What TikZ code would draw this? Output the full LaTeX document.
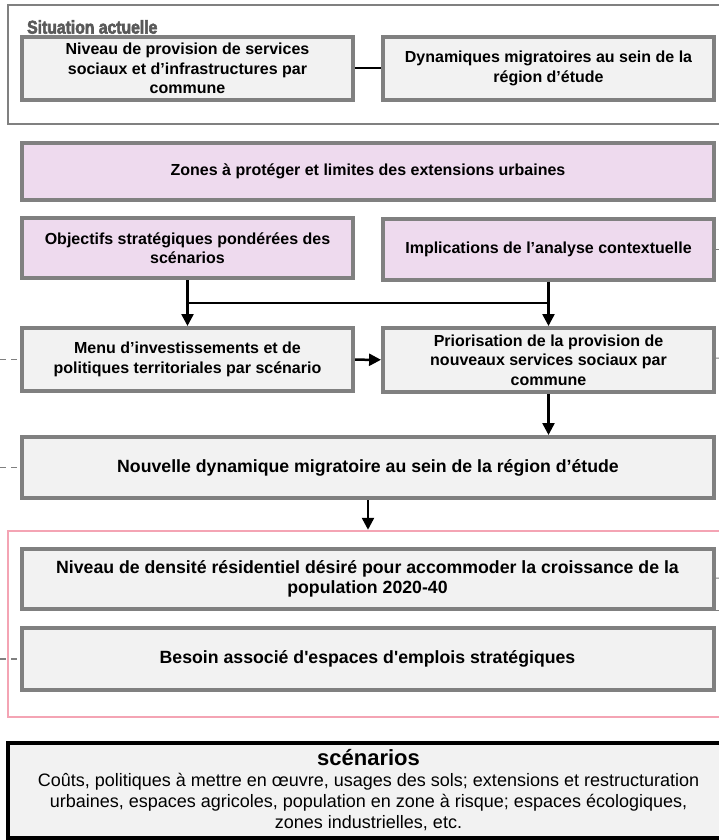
\documentclass[tikz,border=0pt]{standalone}
\usepackage{fontspec}
\usepackage{tikz}
\usetikzlibrary{arrows.meta, positioning}

\setmainfont{Liberation Sans}
\newfontfamily\titlefont[FakeStretch=0.85,FakeBold=3]{Liberation Sans Bold}
\newfontfamily\boxfont{Liberation Sans Bold}

\definecolor{boxgray}{HTML}{F2F2F2}
\definecolor{linegray}{HTML}{808080}
\definecolor{lilac}{HTML}{EEDAEE}
\definecolor{rosepink}{HTML}{F4A4B4}
\definecolor{titlegray}{HTML}{595959}

\begin{document}
\begin{tikzpicture}[
				x=1pt, y=-1pt,
				box/.style={rectangle, draw=linegray, fill=boxgray, line width=4pt, align=center, inner sep=0pt, minimum width=331pt, minimum height=63pt, font=\boxfont\fontsize{16}{19.5}\selectfont},
				widebox/.style={box, minimum width=692pt},
				bigbox/.style={widebox, font=\boxfont\fontsize{17.7}{20}\selectfont},
				pinkbox/.style={box, fill=lilac},
				frame/.style={rectangle, line width=2.5pt, inner sep=0pt, minimum width=721pt},
				arrow/.style={-{Triangle[width=12pt, length=12pt]}, line width=2.5pt},
				link/.style={line width=2pt},
				stub/.style={draw=linegray, line width=1.3pt, dash pattern=on 6pt off 5pt},
				rstub/.style={draw=linegray, line width=1pt}
				]
				\useasboundingbox (0,0) rectangle (719,840);
				
				\node[frame, draw=linegray, minimum height=119pt] (situation) at (368.5,64.5) {};
				\node[anchor=west, text=titlegray, inner sep=0pt, font=\titlefont\fontsize{18.5}{20}\selectfont] (sittitle) at (27,27) {Situation actuelle};
				\node[box] (provision) at (187.5,68.5) {Niveau de provision de services\\sociaux et d’infrastructures par\\commune};
				\node[box] (migration) at (548.5,68.5) {Dynamiques migratoires au sein de la\\région d’étude};
				
				\node[widebox, fill=lilac, minimum height=57pt] (zones) at (368,171.5) {Zones à protéger et limites des extensions urbaines};
				
				\node[pinkbox, minimum height=60pt] (objectifs) at (187.5,248) {Objectifs stratégiques pondérées des\\scénarios};
				\node[pinkbox, minimum height=61pt] (implications) at (548.5,249) {Implications de l’analyse contextuelle};
				
				\node[box] (menu) at (187.5,359.5) {Menu d’investissements et de\\politiques territoriales par scénario};
				\node[box, minimum height=64pt] (priorisation) at (548.5,360) {Priorisation de la provision de\\nouveaux services sociaux par\\commune};
				
				\node[bigbox, minimum height=61pt] (nouvelle) at (368,467.5) {Nouvelle dynamique migratoire au sein de la région d’étude};
				
				\node[frame, draw=rosepink, minimum height=186pt] (densite) at (368.5,624) {};
				\node[bigbox, minimum height=60pt] (niveau) at (367.5,578.5) {Niveau de densité résidentiel désiré pour accommoder la croissance de la\\population 2020-40};
				\node[bigbox, minimum height=62pt] (besoin) at (367.5,659) {Besoin associé d'espaces d'emplois stratégiques};
				
				\node[frame, draw=black, fill=boxgray, line width=3.5pt, minimum height=95pt, align=center, font=\fontsize{18}{21}\selectfont] (scenarios) at (368.5,790.5) {{\fontsize{22}{24}\selectfont\bfseries scénarios}\\Coûts, politiques à mettre en œuvre, usages des sols; extensions et restructuration\\urbaines, espaces agricoles, population en zone à risque; espaces écologiques,\\zones industrielles, etc.};
				
				\coordinate (jl) at (187.5,303);
				\coordinate (jr) at (548.5,303);
				\coordinate (lmenu) at (0,359.5);
				\coordinate (lnouvelle) at (0,467.5);
				\coordinate (lbesoin) at (0,659);
				\coordinate (rimpl) at (719,249);
				\coordinate (rprio) at (719,358);
				\coordinate (rniv) at (719,578);
				
				\draw[link] (provision) -- (migration);
				
				\draw[arrow] (objectifs) -- (menu);
				\draw[arrow] (implications) -- (priorisation);
				\draw[line width=2.5pt] (jl) -- (jr);
				\draw[arrow] (menu) -- (priorisation);
				\draw[arrow] (priorisation.south) -- (priorisation.south |- nouvelle.north);
				\draw[arrow] (nouvelle.south) -- (nouvelle.south |- densite.north);
				
				\draw[stub] (lmenu) -- (menu);
				\draw[stub] (lnouvelle) -- (nouvelle);
				\draw[stub] (lbesoin) -- (besoin);
				\draw[rstub] (implications) -- (rimpl);
				\draw[rstub] (priorisation) -- (rprio);
				\draw[rstub] (niveau) -- (rniv);
				\draw[rstub] (niveau.south east) -- (niveau.south east -| rniv);
				
			\end{tikzpicture}
\end{document}
